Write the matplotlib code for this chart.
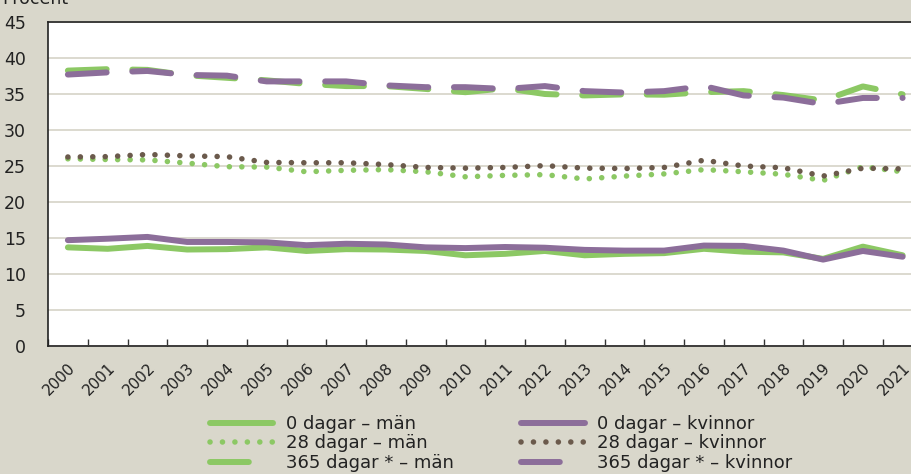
import matplotlib
matplotlib.use("Agg")
import matplotlib.pyplot as plt
import numpy as np

years = [str(y) for y in range(2000, 2022)]

d0_man = [13.7, 13.5, 13.9, 13.4, 13.45, 13.7, 13.2, 13.45, 13.4, 13.2, 12.6,
          12.8, 13.2, 12.6, 12.8, 12.9, 13.5, 13.1, 13.0, 12.1, 13.8, 12.6]
d0_kvinnor = [14.7, 14.9, 15.15, 14.45, 14.45, 14.4, 14.0, 14.2, 14.1, 13.7, 13.6,
              13.75, 13.65, 13.35, 13.25, 13.25, 13.95, 13.9, 13.25, 12.0, 13.2, 12.4]
d28_man = [26.0, 25.9, 25.85, 25.4, 24.9, 24.85, 24.2, 24.4, 24.5, 24.2, 23.5,
           23.7, 23.8, 23.2, 23.6, 23.9, 24.5, 24.2, 23.85, 23.0, 24.9, 24.2]
d28_kvinnor = [26.25, 26.3, 26.6, 26.4, 26.3, 25.5, 25.45, 25.45, 25.2, 24.8, 24.7,
               24.8, 25.05, 24.7, 24.65, 24.8, 25.8, 25.0, 24.75, 23.6, 24.7, 24.6]
d365_man = [38.25, 38.45, 38.35, 37.6, 37.25, 36.9, 36.4, 36.1, 36.1, 35.7, 35.25,
            35.8, 35.0, 34.8, 34.95, 34.9, 35.25, 35.4, 34.85, 34.1, 36.05, 34.95]
d365_kvinnor = [37.7, 38.0, 38.2, 37.65, 37.55, 36.75, 36.75, 36.75, 36.2, 35.95, 35.95,
                35.7, 36.1, 35.4, 35.2, 35.4, 36.1, 34.8, 34.5, 33.6, 34.45, 34.45]

labels = ["0 dagar – män", "28 dagar – män", "365 dagar * – män",
          "0 dagar – kvinnor", "28 dagar – kvinnor", "365 dagar * – kvinnor"]

GREEN = "#8cc864"
PURPLE = "#8c6e9a"
BROWN = "#6b5a4c"
BG = "#d9d7cb"

plt.rcParams['font.family'] = ['DejaVu Sans']

fig = plt.figure(figsize=(9.12, 4.74), dpi=100, facecolor=BG)
ax = fig.add_axes([48/912, 1-346/474, 874.5/912, (346-22)/474])
ax.set_facecolor("white")

x = np.arange(len(years))

solid_lw = 4.3
dot_lw = 4.0
dash_lw = 4.3
DOTS = (0.01, 2.23)
DASHES = (6.5, 4.3)

ax.plot(x, d0_man, color=GREEN, lw=solid_lw, solid_capstyle='round', label=labels[0])
ax.plot(x, d28_man, color=GREEN, lw=dot_lw, dashes=DOTS, dash_capstyle='round', label=labels[1])
ax.plot(x, d365_man, color=GREEN, lw=dash_lw, dashes=DASHES, dash_capstyle='round', label=labels[2])
ax.plot(x, d0_kvinnor, color=PURPLE, lw=solid_lw, solid_capstyle='round', label=labels[3])
ax.plot(x, d28_kvinnor, color=BROWN, lw=dot_lw, dashes=DOTS, dash_capstyle='round', label=labels[4])
ax.plot(x, d365_kvinnor, color=PURPLE, lw=dash_lw, dashes=DASHES, dash_capstyle='round', label=labels[5])

ax.set_xlim(-0.5, len(years) - 0.5)
ax.set_ylim(0, 45)
ax.set_yticks(np.arange(0, 46, 5))
ax.yaxis.grid(True, color=BG, lw=1.3)
ax.set_axisbelow(True)
ax.tick_params(axis='y', length=0, pad=16, labelsize=12.5, colors='#222222')

# category boundary ticks (inward), labels at centers
ax.set_xticks(np.arange(-0.5, len(years) - 0.4, 1.0))
ax.set_xticklabels([])
ax.tick_params(axis='x', which='major', direction='in', length=5, width=1, color='#333333')
ax.set_xticks(x, minor=True)
ax.set_xticklabels(years, minor=True, rotation=45, ha='right', rotation_mode='anchor', fontsize=11)
ax.tick_params(axis='x', which='minor', length=0, pad=10, colors='#222222')

for s in ax.spines.values():
    s.set_color('#222222')
    s.set_linewidth(1.2)

fig.text(2/912, 1 - 4/474, "Procent", fontsize=12.5, va='baseline', ha='left', color='#222222')

leg = ax.legend(loc='upper left', bbox_to_anchor=(210/912, 1 - 415/474), bbox_transform=fig.transFigure,
                ncol=2, frameon=False, fontsize=13, handlelength=3.5, handletextpad=0.7,
                columnspacing=3.75, labelspacing=0.08, borderpad=0, borderaxespad=0)
for t in leg.get_texts():
    t.set_color('#222222')

fig.savefig("out.png", dpi=100, facecolor=BG)
